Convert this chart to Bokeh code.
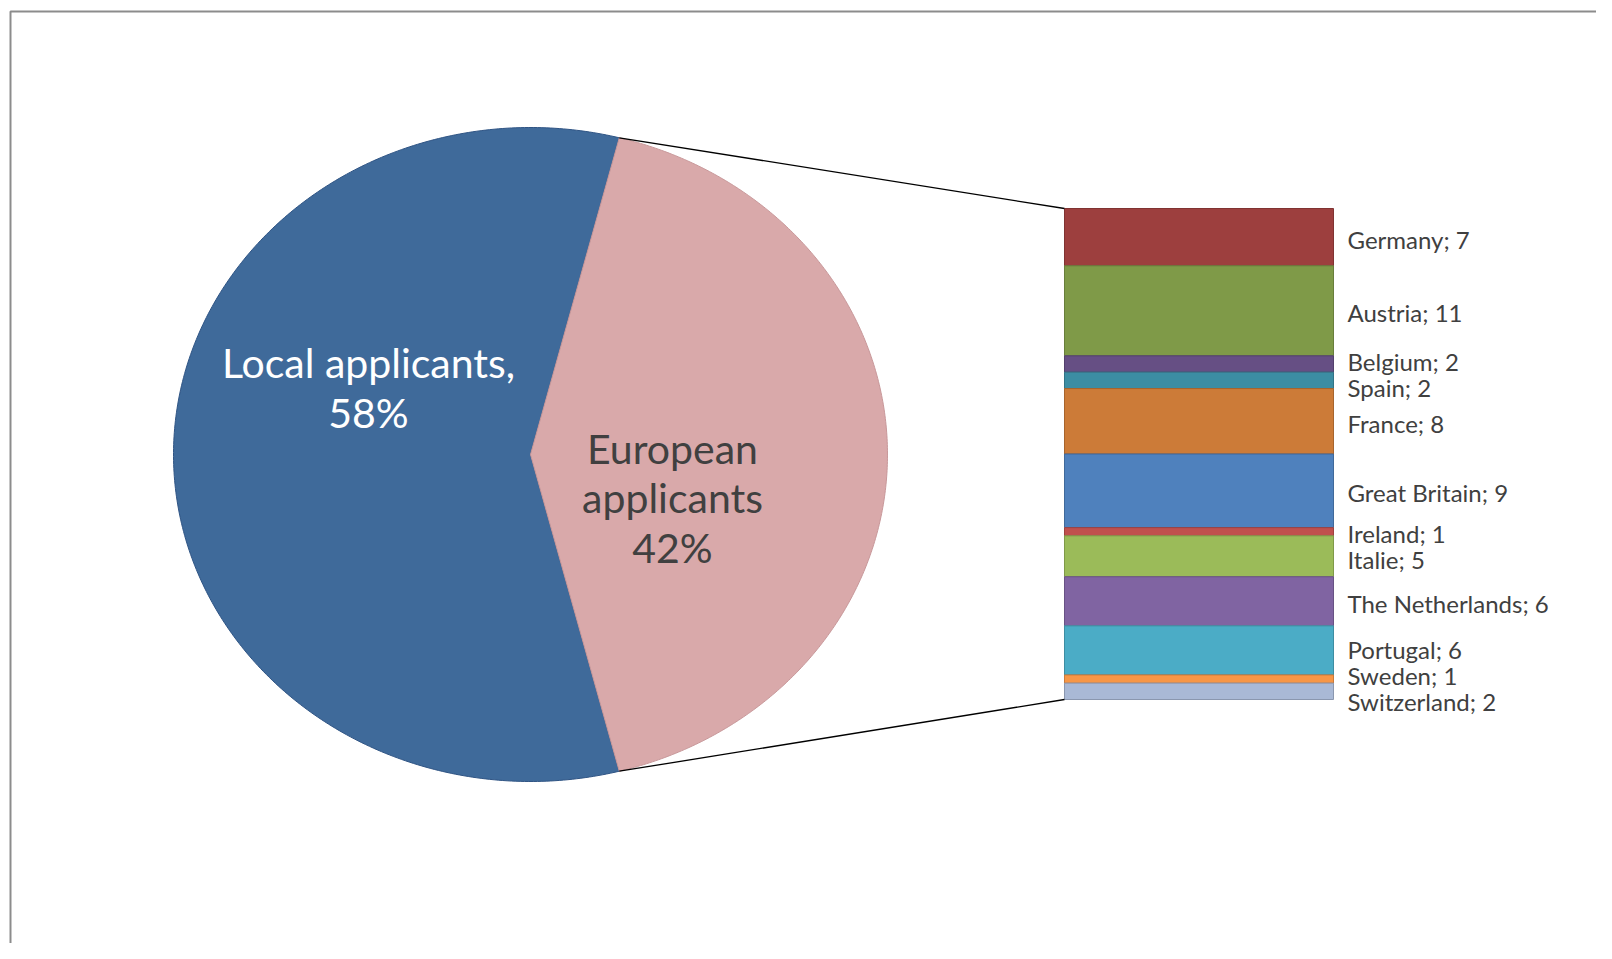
import numpy as np
from bokeh.plotting import figure
from bokeh.models import Range1d
from bokeh.core.properties import value
from bokeh.embed import file_html
from bokeh.resources import INLINE

# ---------------- data ----------------
pie_names = ["Local applicants", "European applicants"]
pie_shares = [58, 42]
pie_colors = ["#3F6A9A", "#D9A9AA"]
pie_edges = ["#2F5484", "#C8989A"]
pie_text_colors = ["#FFFFFF", "#404040"]

countries = ["Germany", "Austria", "Belgium", "Spain", "France", "Great Britain",
             "Ireland", "Italie", "The Netherlands", "Portugal", "Sweden", "Switzerland"]
counts = [7, 11, 2, 2, 8, 9, 1, 5, 6, 6, 1, 2]
bar_colors = ["#9D3F3E", "#7F9A48", "#664F84", "#3C8DA3", "#CC7B38", "#4F81BD",
              "#C0504D", "#9BBB59", "#8064A2", "#4BACC6", "#F79646", "#A9B9D6"]

FONT = "Lato"

def darken(hexc, f=0.82):
    h = hexc.lstrip("#")
    r, g, b = (int(h[i:i + 2], 16) for i in (0, 2, 4))
    return "#%02X%02X%02X" % (int(r * f), int(g * f), int(b * f))

# ---------------- figure (screen-like coordinates) ----------------
W, H = 1596, 943
p = figure(width=W, height=H, x_range=Range1d(0, W), y_range=Range1d(H, 0),
           output_backend="svg", toolbar_location=None, x_axis_type=None, y_axis_type=None,
           min_border=0, outline_line_color=None)
p.grid.visible = False
p.background_fill_color = "white"
p.border_fill_color = "white"

# frame border of the document box
p.line(x=[10, 10, W], y=[H, 11, 11], line_color="#8C8C8C", line_width=2)

# ---------------- stacked bar (own range: values 0..total) ----------------
total = sum(counts)
bar_top_px, bar_bot_px = 208, 699
upp = total / (bar_bot_px - bar_top_px)  # units per pixel
stack_start = (H - bar_top_px) * upp
stack_end = (0 - bar_top_px) * upp
p.extra_y_ranges = {"stack": Range1d(stack_start, stack_end)}

cum = np.cumsum([0] + counts)
bottoms = cum[:-1]
tops = cum[1:]
bar_left, bar_right = 1064, 1333
p.quad(left=bar_left, right=bar_right, top=list(bottoms), bottom=list(tops),
       fill_color=bar_colors, line_color=[darken(c) for c in bar_colors], line_width=1,
       y_range_name="stack")

# labels at segment centres, de-overlapped
centres = [(b + t) / 2 for b, t in zip(bottoms, tops)]
min_gap = 26 * upp
ys = list(centres)
for _ in range(200):
    moved = False
    for i in range(len(ys) - 1):
        gap = ys[i + 1] - ys[i]
        if gap < min_gap - 1e-9:
            d = (min_gap - gap) / 2
            ys[i] -= d
            ys[i + 1] += d
            moved = True
    if not moved:
        break
labels = [f"{c}; {n}" for c, n in zip(countries, counts)]
p.text(x=[1347] * len(labels), y=[y + 2 * upp for y in ys], text=labels, y_range_name="stack",
       text_font=value(FONT), text_font_size="24px", text_color="#404040",
       text_baseline="middle", text_align="left")

# ---------------- pie (elliptical) ----------------
cx, cy, rx, ry = 530, 454, 357, 327
fr = np.array(pie_shares, dtype=float) / sum(pie_shares)
eu_half = np.pi * fr[1]
# European slice centred on angle 0, Local slice on the rest
spans = [(eu_half, 2 * np.pi - eu_half), (-eu_half, eu_half)]
for (a0, a1), fc, lc in zip(spans, pie_colors, pie_edges):
    t = np.linspace(a0, a1, 300)
    xs = np.concatenate([[cx], cx + rx * np.cos(t), [cx]])
    yy = np.concatenate([[cy], cy - ry * np.sin(t), [cy]])
    p.patch(x=xs, y=yy, fill_color=fc, line_color=lc, line_width=1)

# connector lines from European slice edge to bar
top_pt = (cx + rx * np.cos(eu_half), cy - ry * np.sin(eu_half))
bot_pt = (cx + rx * np.cos(-eu_half), cy - ry * np.sin(-eu_half))
p.line(x=[top_pt[0], bar_left], y=[top_pt[1], bar_top_px], line_color="black", line_width=1.3)
p.line(x=[bot_pt[0], bar_left], y=[bot_pt[1], bar_bot_px], line_color="black", line_width=1.3)

# pie labels
local_lines = [f"{pie_names[0]},", f"{pie_shares[0]}%"]
eu_lines = pie_names[1].split(" ") + [f"{pie_shares[1]}%"]
p.text(x=[368] * 2, y=[362, 412], text=local_lines, text_font=value(FONT),
       text_font_size="41px", text_color=pie_text_colors[0],
       text_align="center", text_baseline="middle")
p.text(x=[672] * 3, y=[448, 497, 547], text=eu_lines, text_font=value(FONT),
       text_font_size="41px", text_color=pie_text_colors[1],
       text_align="center", text_baseline="middle")

open("out.html", "w").write(file_html(p, INLINE))
